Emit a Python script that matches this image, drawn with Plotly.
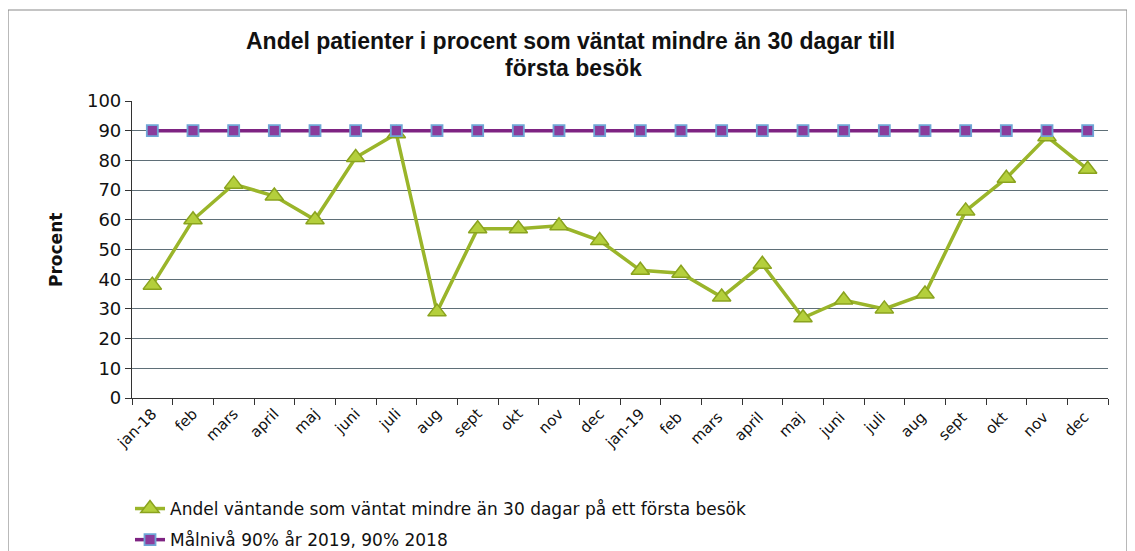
import plotly.graph_objects as go

categories = ["jan-18", "feb", "mars", "april", "maj", "juni", "juli", "aug", "sept", "okt", "nov", "dec",
              "jan-19", "feb ", "mars ", "april ", "maj ", "juni ", "juli ", "aug ", "sept ", "okt ", "nov ", "dec "]
andel = [38, 60, 72, 68, 60, 81, 89, 29, 57, 57, 58, 53,
         43, 42, 34, 45, 27, 33, 30, 35, 63, 74, 88, 77]
malniva = [90] * 24

series1_name = "Andel väntande som väntat mindre än 30 dagar på ett första besök"
series2_name = "Målnivå 90% år 2019, 90% 2018"
title_line1 = "Andel patienter i procent som väntat mindre än 30 dagar till"
title_line2 = "första besök"
y_title = "Procent"

# page body has an 8px margin; work in reference-screen pixels and convert
O = 8
W, H = 1135 - O, 551 - O
L, R, T, B = 132 - O, 1108 - O, 101 - O, 398 - O
pw, ph = R - L, B - T

def px_x(p):
    return (p - O - L) / pw

def px_y(p):
    return (B - (p - O)) / ph

fig = go.Figure()
fig.add_trace(go.Scatter(
    x=categories, y=andel, mode="lines+markers", name=series1_name,
    line=dict(color="#9ab52a", width=3.5),
    marker=dict(symbol="triangle-up", size=16, color="#b4cf3c", line=dict(color="#8aa31e", width=1.5)),
    legendgroup="a",
))
fig.add_trace(go.Scatter(
    x=categories, y=malniva, mode="lines+markers", name=series2_name,
    line=dict(color="#7e2382", width=3.5),
    marker=dict(symbol="square", size=11, color="#8a3c9c", line=dict(color="#6fa6d6", width=1.8)),
    legendgroup="b",
))

title_font = dict(family="Liberation Sans, Arial", size=23, color="#111111")

fig.update_layout(
    width=W, height=H,
    margin=dict(l=L, r=W - R, t=T, b=H - B, autoexpand=False),
    paper_bgcolor="white", plot_bgcolor="white",
    showlegend=True,
    legend=dict(xref="container", yref="container", x=122 / W, xanchor="left",
                y=1 - 483 / H, yanchor="top",
                font=dict(family="DejaVu Sans, Verdana", size=17, color="#111111"),
                tracegroupgap=6, bgcolor="rgba(0,0,0,0)", itemwidth=30),
    shapes=[dict(type="rect", xref="paper", yref="paper",
                 x0=px_x(8), x1=px_x(1127), y0=px_y(600), y1=px_y(10),
                 line=dict(color="#8a8a8a", width=1.2), layer="below")],
    annotations=[
        dict(text="<b>" + title_line1 + "</b>", xref="paper", yref="paper",
             x=px_x(570), y=px_y(41), xanchor="center", yanchor="middle",
             showarrow=False, font=title_font),
        dict(text="<b>" + title_line2 + "</b>", xref="paper", yref="paper",
             x=px_x(573), y=px_y(68), xanchor="center", yanchor="middle",
             showarrow=False, font=title_font),
        dict(text="<b>" + y_title + "</b>", xref="paper", yref="paper",
             x=px_x(56), y=px_y(250), xanchor="center", yanchor="middle", textangle=-90,
             showarrow=False, font=dict(family="DejaVu Sans, Verdana", size=17, color="#111111")),
    ],
)

fig.update_xaxes(
    type="category", tickangle=-45, tickson="boundaries", ticks="outside", ticklen=6,
    tickcolor="#333333", showline=True, linecolor="#333333", linewidth=1.2,
    showgrid=False, tickfont=dict(family="DejaVu Sans, Verdana", size=15, color="#111111"),
    range=[-0.5, 23.5], automargin=False,
)
fig.update_yaxes(
    range=[0, 100], dtick=10, ticks="outside", ticklen=6, tickcolor="#333333",
    showline=True, linecolor="#333333", linewidth=1.2,
    showgrid=True, gridcolor="#5f6f78", gridwidth=1.2, zeroline=False,
    tickfont=dict(family="DejaVu Sans, Verdana", size=18, color="#111111"),
    automargin=False,
)

fig.write_html("out.html")
